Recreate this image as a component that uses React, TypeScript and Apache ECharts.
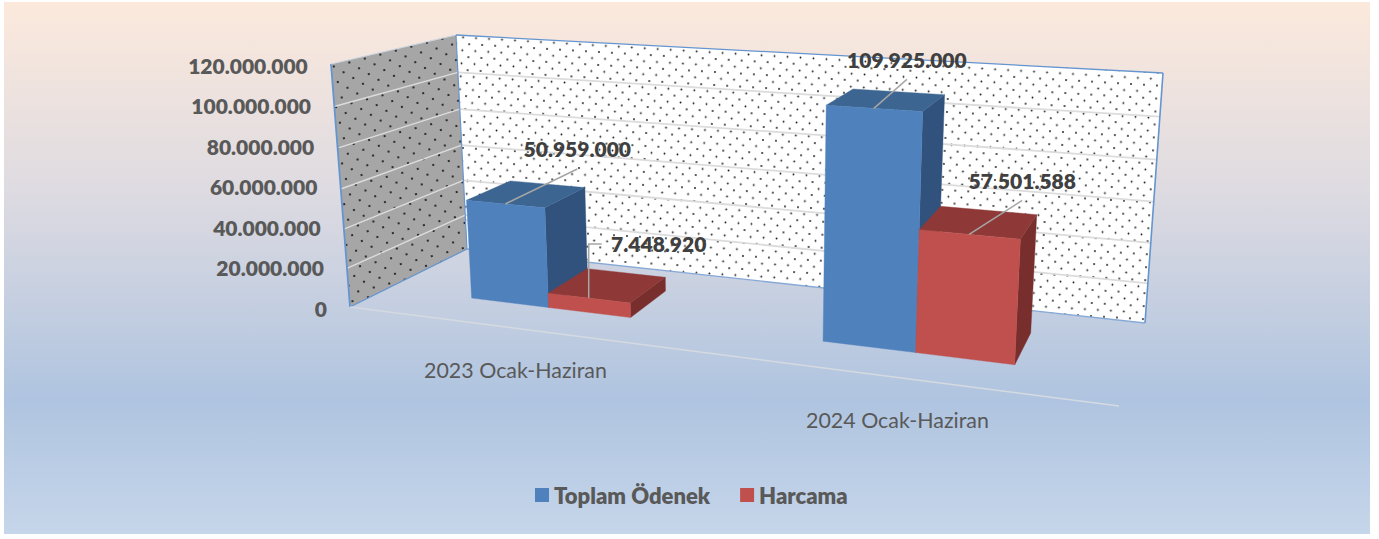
import React, { useEffect, useRef } from "react";
import * as echarts from "echarts";

const categories = ["2023 Ocak-Haziran", "2024 Ocak-Haziran"];
const seriesNames = ["Toplam Ödenek", "Harcama"];
const toplamOdenek = [50959000, 109925000];
const harcama = [7448920, 57501588];
const yTicks = [0, 20000000, 40000000, 60000000, 80000000, 100000000, 120000000];
const yTickLabels = ["0", "20.000.000", "40.000.000", "60.000.000", "80.000.000", "100.000.000", "120.000.000"];
const dataLabels = [["50.959.000", "109.925.000"], ["7.448.920", "57.501.588"]];

const W = 1379, H = 539;
const GRID = { left: 330, top: 65, width: 800, height: 243 };
const BASE_Y = 309;
const FONT = "Lato";
const HEAVY = 800;

type P = [number, number];
const FL: P = [350, 307], FR: P = [1119, 406], BL: P = [467, 249], BR: P = [1145, 323];
const wallH = { fl: [-19, -243], fr: [17, -290], bl: [-11, -214], br: [18, -250] };
const D_FRONT = 0.33, D_BACK = 0.73;

const persp = (t: number) => (0.829 * t) / (1 - 0.171 * t);
const riseOf = (v: number) => v - 0.058 * v * (1 - v);
const bilinear = (a: number[], b: number[], c: number[], d: number[], u: number, dep: number) =>
  [0, 1].map(i => (1 - dep) * ((1 - u) * a[i] + u * b[i]) + dep * ((1 - u) * c[i] + u * d[i]));
function project(t: number, dep: number, v: number): P {
  const u = persp(t);
  const f = bilinear(FL, FR, BL, BR, u, dep);
  const h = bilinear(wallH.fl, wallH.fr, wallH.bl, wallH.br, u, dep);
  const r = riseOf(v);
  return [f[0] + r * h[0], f[1] + r * h[1]];
}
const toT = (px: number) => (px - GRID.left) / GRID.width;
const toV = (py: number) => (GRID.top + GRID.height - py) / GRID.height;

function dotPattern(bg: string, size: number, dots: number[][], r: number, rotation: number) {
  const c = document.createElement("canvas");
  c.width = size; c.height = size;
  const g = c.getContext("2d")!;
  g.fillStyle = bg; g.fillRect(0, 0, size, size);
  g.fillStyle = "#111";
  dots.forEach(d => { g.beginPath(); g.arc(d[0], d[1], r, 0, Math.PI * 2); g.fill(); });
  return { image: c, repeat: "repeat", imageWidth: size, imageHeight: size, rotation } as any;
}

const barStyles = [
  { front: "#4f81bd", top: "#3c6591", side: "#30527c" },
  { front: "#c0504d", top: "#8e3937", side: "#772e2c" },
];
// leader-line bends, relative to the middle of the bar's top front edge
const leaders: number[][][][] = [
  [[[72, -35]], [[33, -29]]],
  [[[0, -54], [13, -54]], [[53, -34]]],
];
const labelAnchors: { dx: number; dy: number }[][] = [
  [{ dx: 72, dy: -55 }, { dx: 33, dy: -49 }],
  [{ dx: 70, dy: -55 }, { dx: 53, dy: -54 }],
];

export default function App() {
  const ref = useRef<HTMLDivElement>(null);
  useEffect(() => {
    const chart = echarts.init(ref.current!, null, { renderer: "svg" });
    const backFill = dotPattern("#ffffff", 13, [[3, 3], [9.5, 9.5]], 0.9, 0.06);
    const sideFill = dotPattern("#a6a6a6", 16, [[3, 3], [11, 11]], 1.1, -0.25);

    const renderWalls = (_: any, api: any) => {
      const children: any[] = [];
      const poly = (pts: P[], fill: any) => ({
        type: "polygon", shape: { points: pts }, style: { fill, stroke: "none" },
      });
      const seg = (a: P, b: P, stroke: string, lineWidth: number) => ({
        type: "line",
        shape: { x1: a[0], y1: a[1], x2: b[0], y2: b[1] },
        style: { stroke, lineWidth },
      });
      children.push(poly([project(0, 0, 0), project(0, 1, 0), project(0, 1, 1), project(0, 0, 1)], sideFill));
      children.push(poly([project(0, 1, 0), project(1, 1, 0), project(1, 1, 1), project(0, 1, 1)], backFill));
      yTicks.slice(1, -1).forEach(tick => {
        const v = toV(api.coord([0, tick])[1]);
        children.push(seg(project(0, 0, v), project(0, 1, v), "#dcdcdc", 1.4));
        children.push(seg(project(0, 1, v), project(1, 1, v), "#dcdcdc", 1.8));
      });
      const blue = "#6595cf";
      children.push(seg(project(0, 0, 0), project(0, 0, 1), blue, 1.8));
      children.push(seg(project(0, 0, 0), project(0, 1, 0), blue, 1.3));
      children.push(seg(project(0, 0, 1), project(0, 1, 1), "#cdd6e2", 1.2));
      children.push(seg(project(0, 1, 0), project(0, 1, 1), blue, 1.2));
      children.push(seg(project(0, 1, 1), project(1, 1, 1), blue, 1.3));
      children.push(seg(project(1, 1, 1), project(1, 1, 0), blue, 1.6));
      children.push(seg(project(1, 1, 0), project(0, 1, 0), "#86a9d6", 1.4));
      children.push(seg(project(0, 0, 0), project(1, 0, 0), "#d5dae0", 1.5));
      categories.forEach((name, i) => {
        const p = project(toT(api.coord([i, 0])[0]), 0, 0);
        children.push({
          type: "text", x: p[0] - 1, y: p[1] + 42,
          style: { text: name, x: 0, y: 0, align: "center", verticalAlign: "middle", fill: "#595959", font: `400 21.4px ${FONT}` },
        });
      });
      return { type: "group", children };
    };

    const renderBar = (s: number) => (params: any, api: any) => {
      const i = api.value(0);
      const c = api.coord([i, api.value(1)]);
      const band = api.size([1, 0])[0];
      const left = toT(c[0] - (s === 0 ? 0.235 * band : 0));
      const right = toT(c[0] + (s === 0 ? 0 : 0.24 * band));
      const v = toV(c[1]);
      const st = barStyles[s];
      const poly = (pts: P[], fill: string) => ({
        type: "polygon", shape: { points: pts }, style: { fill, stroke: fill, lineWidth: 0.4 },
      });
      const children: any[] = [
        poly([project(right, D_FRONT, 0), project(right, D_BACK, 0), project(right, D_BACK, v), project(right, D_FRONT, v)], st.side),
        poly([project(left, D_FRONT, v), project(right, D_FRONT, v), project(right, D_BACK, v), project(left, D_BACK, v)], st.top),
        poly([project(left, D_FRONT, 0), project(right, D_FRONT, 0), project(right, D_FRONT, v), project(left, D_FRONT, v)], st.front),
      ];
      const a = project((left + right) / 2, D_FRONT, v);
      const pts: P[] = [a, ...leaders[s][i].map(o => [a[0] + o[0], a[1] + o[1]] as P)];
      children.push({
        type: "polyline", shape: { points: pts },
        style: { stroke: "#a6a6a6", lineWidth: 1.5, fill: "none" },
      });
      const an = labelAnchors[s][i];
      children.push({
        type: "text", x: a[0] + an.dx, y: a[1] + an.dy,
        style: { text: dataLabels[s][i], x: 0, y: 0, align: "center", verticalAlign: "middle", fill: "#404040", font: `${HEAVY} 21px ${FONT}` },
      });
      return { type: "group", children };
    };

    const rich: Record<string, any> = {};
    yTicks.forEach((_, i) => {
      rich["t" + i] = {
        fontFamily: FONT, fontWeight: HEAVY, fontSize: 21, color: "#595959",
        padding: [0, i * 3.2, 0, 0],
      };
    });

    chart.setOption({
      animation: false,
      graphic: [{
        type: "rect", z: -10, silent: true,
        shape: { x: 4, y: 2, width: 1366, height: 532 },
        style: {
          fill: new echarts.graphic.LinearGradient(0, 0, 0, 1, [
            { offset: 0, color: "#fce9dc" },
            { offset: 0.35, color: "#dedbe1" },
            { offset: 0.75, color: "#afc4e0" },
            { offset: 1, color: "#c6d6ea" },
          ]),
        },
      }],
      grid: { ...GRID, containLabel: false },
      xAxis: { type: "category", data: categories, show: false },
      yAxis: {
        type: "value", min: 0, max: 120000000, interval: 20000000,
        axisLine: { show: false }, axisTick: { show: false }, splitLine: { show: false },
        axisLabel: {
          margin: 3,
          formatter: (val: number) => {
            const i = yTicks.indexOf(val);
            return `{t${i}|${yTickLabels[i]}}`;
          },
          rich,
        },
      },
      legend: {
        data: seriesNames, left: 530, top: 479, itemWidth: 14, itemHeight: 14, itemGap: 30,
        icon: "rect",
        textStyle: { fontFamily: FONT, fontWeight: HEAVY, fontSize: 22, color: "#595959" },
      },
      series: [
        { type: "custom", silent: true, data: [[0, 0]], encode: { x: 0, y: 1 }, renderItem: renderWalls },
        {
          type: "custom", name: seriesNames[0], itemStyle: { color: barStyles[0].front }, encode: { x: 0, y: 1 },
          data: toplamOdenek.map((v, i) => [i, v]), renderItem: renderBar(0),
        },
        {
          type: "custom", name: seriesNames[1], itemStyle: { color: barStyles[1].front }, encode: { x: 0, y: 1 },
          data: harcama.map((v, i) => [i, v]), renderItem: renderBar(1),
        },
      ],
    });
    return () => chart.dispose();
  }, []);
  return <div ref={ref} style={{ position: "absolute", left: 0, top: 0, width: W, height: H }} />;
}
